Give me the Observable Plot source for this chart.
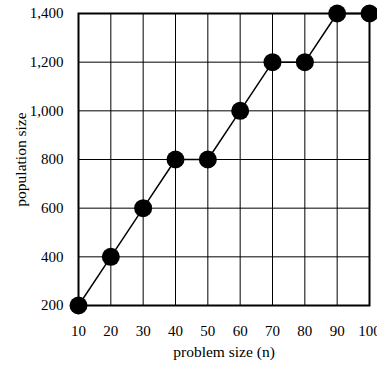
<!DOCTYPE html>
<html>
<head>
<meta charset="utf-8">
<script src="https://cdn.jsdelivr.net/npm/d3@7"></script>
<script src="https://cdn.jsdelivr.net/npm/@observablehq/plot@0.6"></script>
<style>
  html, body { margin: 0; padding: 0; background: #fff; }
  svg { font-family: "Liberation Serif", "Times New Roman", serif; }
  g[aria-label="x-axis label"], g[aria-label="y-axis label"] { font-size: 15.5px; }
</style>
</head>
<body>
<div id="chart"></div>
<script>
const problemSize = [10, 20, 30, 40, 50, 60, 70, 80, 90, 100];
const populationSize = [200, 400, 600, 800, 800, 1000, 1200, 1200, 1400, 1400];
const xTicks = [10, 20, 30, 40, 50, 60, 70, 80, 90, 100];
const yTicks = [200, 400, 600, 800, 1000, 1200, 1400];

const data = problemSize.map((n, i) => ({ n, pop: populationSize[i] }));
const fmt = d3.format(",");

const chart = Plot.plot({
  width: 377,
  height: 367,
  marginLeft: 78,
  marginRight: 8,
  marginTop: 13,
  marginBottom: 62,
  style: { fontFamily: "Liberation Serif, Times New Roman, serif", fontSize: "15px", background: "#fff", overflow: "visible" },
  x: { domain: [10, 100], ticks: xTicks },
  y: { domain: [200, 1400], ticks: yTicks },
  marks: [
    Plot.ruleX(xTicks, { stroke: "#000", strokeWidth: 1 }),
    Plot.ruleY(yTicks, { stroke: "#000", strokeWidth: 1 }),
    Plot.frame({ stroke: "#000", strokeWidth: 2 }),
    Plot.axisX({ ticks: xTicks, tickSize: 0, tickPadding: 20, fontSize: 15, label: "problem size (n)", labelAnchor: "center", labelArrow: "none", labelOffset: 51 }),
    Plot.axisY({ ticks: yTicks, tickSize: 0, tickPadding: 15, fontSize: 15, tickFormat: fmt, label: "population size", labelAnchor: "center", labelArrow: "none", labelOffset: 64 }),
    Plot.line(data, { x: "n", y: "pop", stroke: "#000", strokeWidth: 1.5 }),
    Plot.dot(data, { x: "n", y: "pop", r: 9, fill: "#000", stroke: "none" })
  ]
});
document.getElementById("chart").appendChild(chart);
</script>
</body>
</html>
